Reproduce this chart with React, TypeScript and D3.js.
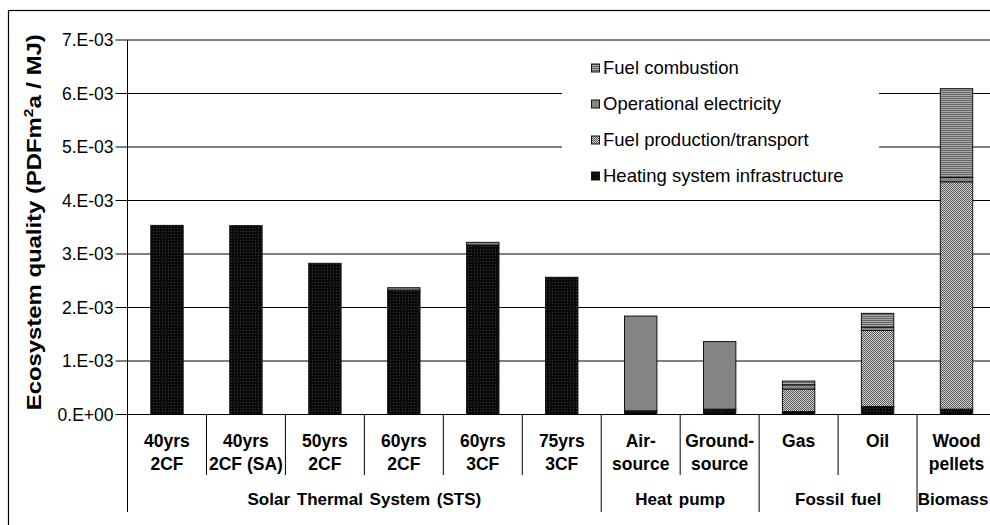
import React from "react";
import * as d3 from "d3";

// values in units of 1E-03 PDF m2a / MJ
const categories = [
  ["40yrs", "2CF"],
  ["40yrs", "2CF (SA)"],
  ["50yrs", "2CF"],
  ["60yrs", "2CF"],
  ["60yrs", "3CF"],
  ["75yrs", "3CF"],
  ["Air-", "source"],
  ["Ground-", "source"],
  ["Gas"],
  ["Oil"],
  ["Wood", "pellets"],
];
const groups = ["Solar Thermal System (STS)", "Heat pump", "Fossil fuel", "Biomass"];
const groupSizes = [6, 2, 2, 1];

const infrastructure = [3.535, 3.53, 2.826, 2.325, 3.168, 2.565, 0.07, 0.1, 0.055, 0.15, 0.1];
const fuelProduction = [0, 0, 0, 0, 0, 0, 0, 0, 0.42, 1.42, 4.25];
const electricity = [0, 0, 0, 0.045, 0.05, 0, 1.77, 1.263, 0.08, 0.06, 0.08];
const combustion = [0, 0, 0, 0, 0, 0, 0, 0, 0.07, 0.26, 1.66];

const yTicks = [0, 1, 2, 3, 4, 5, 6, 7];
const tickLabel = (v: number) => (v === 0 ? "0.E+00" : `${v}.E-03`);

const series = [
  { key: "infra", label: "Heating system infrastructure", values: infrastructure, fill: "url(#pInfra)" },
  { key: "prod", label: "Fuel production/transport", values: fuelProduction, fill: "url(#pProd)" },
  { key: "elec", label: "Operational electricity", values: electricity, fill: "#858585" },
  { key: "comb", label: "Fuel combustion", values: combustion, fill: "url(#pComb)" },
];

const FONT = "'Liberation Sans', Arial, Helvetica, sans-serif";

export default function App() {
  const width = 990;
  const height = 525;
  const left = 127.5;
  const right = 996;
  const top = 40;
  const bottom = 414.5;

  const x = d3.scaleBand<number>().domain(d3.range(categories.length)).range([left, right]).padding(0);
  const y = d3.scaleLinear().domain([0, 7]).range([bottom, top]);
  const barW = x.bandwidth() * 0.41;

  const stacked = d3
    .stack<number>()
    .keys(series.map((s, i) => String(i)))
    .value((i, k) => series[+k].values[i])(d3.range(categories.length));

  // group boundaries
  const groupStarts: number[] = [];
  let acc = 0;
  groupSizes.forEach((n) => {
    groupStarts.push(acc);
    acc += n;
  });

  const lineY1 = 441;
  const lineY2 = 464;
  const groupY = 499;

  return (
    <svg width={width} height={height} style={{ position: "absolute", left: 0, top: 0, background: "#fff" }}>
      <defs>
        <pattern id="pInfra" width="3" height="3" patternUnits="userSpaceOnUse">
          <rect width="3" height="3" fill="#0a0a0a" />
          <rect width="1" height="1" fill="#3a3a3a" />
        </pattern>
        <pattern id="pProd" width="2" height="2" patternUnits="userSpaceOnUse">
          <rect width="2" height="2" fill="#d6d6d6" />
          <rect width="1" height="1" fill="#555" />
          <rect x="1" y="1" width="1" height="1" fill="#555" />
        </pattern>
        <pattern id="pComb" width="2" height="2" patternUnits="userSpaceOnUse">
          <rect width="2" height="2" fill="#a8a8a8" />
          <rect width="2" height="1" fill="#666" />
        </pattern>
      </defs>

      {/* outer chart frame */}
      <rect x={8.5} y={10.5} width={1000} height={530} fill="#fff" stroke="#000" strokeWidth={1.2} />

      {/* gridlines */}
      {yTicks.map((t) => (
        <line key={t} x1={left} x2={width} y1={y(t)} y2={y(t)} stroke="#000" strokeWidth={1} />
      ))}

      {/* legend box */}
      <rect x={562} y={50} width={317} height={143} fill="#fff" />

      {/* bars */}
      {stacked.map((layer, si) =>
        layer.map((d, i) => {
          const v = d[1] - d[0];
          if (v <= 0) return null;
          const cx = (x(i) as number) + x.bandwidth() / 2;
          return (
            <rect
              key={`${si}-${i}`}
              x={cx - barW / 2}
              y={y(d[1])}
              width={barW}
              height={y(d[0]) - y(d[1])}
              fill={series[si].fill}
              stroke="#111"
              strokeWidth={1}
            />
          );
        })
      )}

      {/* y axis */}
      <line x1={left} x2={left} y1={top} y2={bottom} stroke="#000" strokeWidth={1} />
      {yTicks.map((t) => (
        <g key={t}>
          <line x1={left - 12} x2={left} y1={y(t)} y2={y(t)} stroke="#000" />
          <text x={left - 14} y={y(t)} dy="0.35em" textAnchor="end" fontFamily={FONT} fontSize={17.5} fill="#000">
            {tickLabel(t)}
          </text>
        </g>
      ))}
      <text
        transform={`translate(41,${(top + bottom) / 2 - 5}) rotate(-90)`}
        textAnchor="middle"
        fontFamily={FONT}
        fontSize={20}
        fontWeight="bold"
        textLength={376}
        lengthAdjust="spacingAndGlyphs"
      >
        Ecosystem quality (PDFm
        <tspan dy={-8} fontSize={13}>
          2
        </tspan>
        <tspan dy={8}>a / MJ)</tspan>
      </text>

      {/* category axis */}
      <line x1={left} x2={width} y1={bottom} y2={bottom} stroke="#000" />
      {d3.range(categories.length + 1).map((i) => {
        const xx = i < categories.length ? (x(i) as number) : right;
        const isGroup = groupStarts.includes(i) || i === categories.length;
        return <line key={i} x1={xx} x2={xx} y1={bottom} y2={isGroup ? 512 : 475} stroke="#000" />;
      })}
      {categories.map((lines, i) => {
        const cx = (x(i) as number) + x.bandwidth() / 2;
        return (
          <text key={i} textAnchor="middle" fontFamily={FONT} fontSize={17.5} fontWeight="bold">
            {lines.map((l, j) => (
              <tspan key={j} x={cx} y={j === 0 ? lineY1 : lineY2} dy="0.35em">
                {l}
              </tspan>
            ))}
          </text>
        );
      })}
      {groups.map((g, gi) => {
        const s = groupStarts[gi];
        const e = s + groupSizes[gi];
        const x0 = x(s) as number;
        const x1 = e < categories.length ? (x(e) as number) : right;
        // the last group runs past the picture edge: keep its label inside
        const clipped = x1 > width;
        return (
          <text
            key={g}
            x={clipped ? width - 1.5 : (x0 + x1) / 2}
            y={groupY}
            dy="0.35em"
            textAnchor={clipped ? "end" : "middle"}
            fontFamily={FONT}
            fontSize={17}
            fontWeight="bold"
            wordSpacing={2}
          >
            {g}
          </text>
        );
      })}

      {/* legend */}
      {[...series].reverse().map((s, i) => {
        const ly = 68 + i * 36;
        return (
          <g key={s.key}>
            <rect x={591.5} y={ly - 4} width={8} height={8} fill={s.fill} stroke="#111" strokeWidth={1} />
            <text x={603} y={ly} dy="0.35em" fontFamily={FONT} fontSize={18.5} fill="#000">
              {s.label}
            </text>
          </g>
        );
      })}
    </svg>
  );
}
